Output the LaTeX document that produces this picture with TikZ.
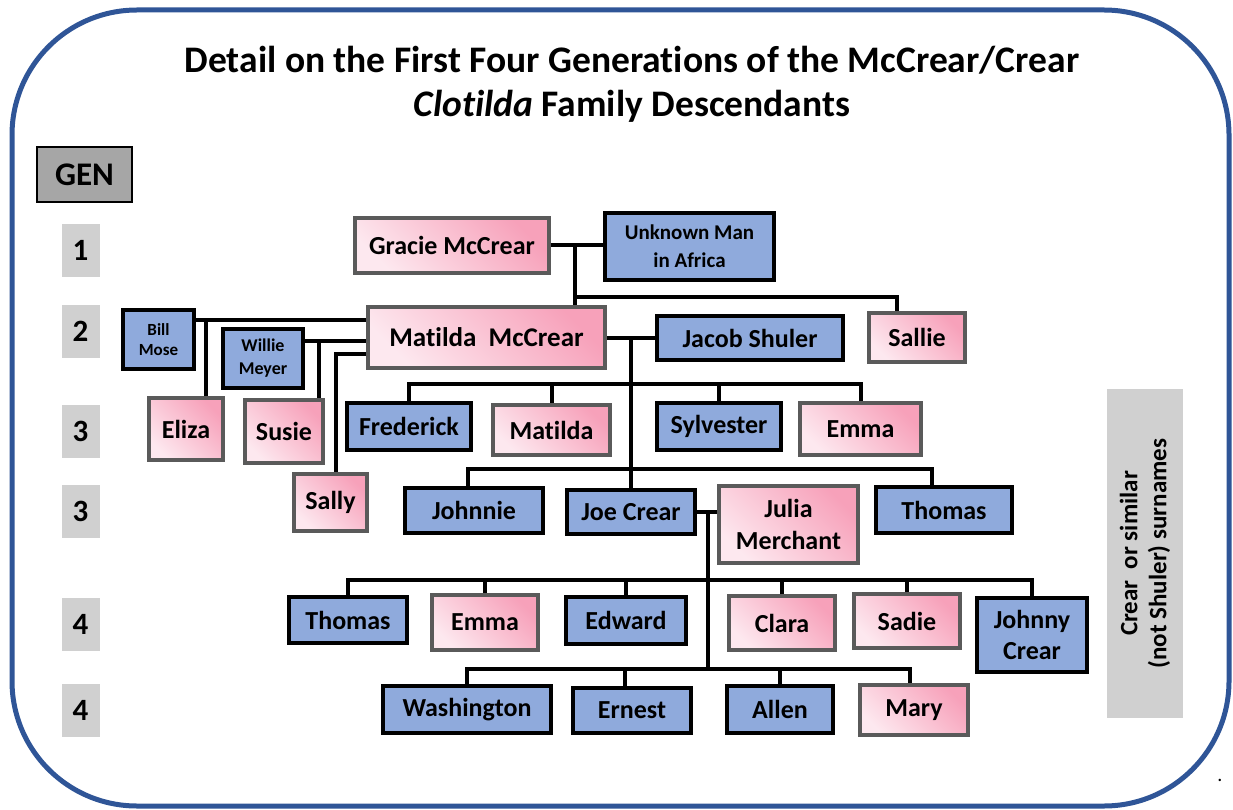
\documentclass[tikz,border=0pt]{standalone}
\usepackage{fontspec}
\setmainfont{Carlito}[Ligatures={NoCommon}]
\definecolor{frameblue}{HTML}{2F5597}
\definecolor{mblue}{HTML}{8FAADC}
\definecolor{pinkD}{HTML}{F7A1BA}
\definecolor{pinkL}{HTML}{FDE8EF}
\definecolor{pinkB}{HTML}{5A5A5A}
\definecolor{genG}{HTML}{A6A6A6}
\definecolor{lightG}{HTML}{D0D0D0}
\newcommand{\fsz}[2]{\fontsize{#1}{#2}\selectfont\bfseries}
\tikzset{
  person/.style={rectangle, inner sep=0pt, align=center, font=\fsz{26}{30}, text=black},
  male/.style={person, draw=black, line width=3.2pt, fill=mblue},
  female/.style={person, draw=pinkB, line width=3.8pt, top color=pinkD, bottom color=pinkL, shading angle=-45},
  link/.style={line width=4pt, black},
  genbox/.style={fill=lightG, minimum width=38pt, minimum height=53pt, inner sep=0pt, font=\fsz{31}{36}},
}
\begin{document}
\begin{tikzpicture}[x=1pt,y=-1pt]
\useasboundingbox (0,0) rectangle (1233,810);
\draw[frameblue, line width=5pt, rounded corners=125pt] (12,10) rectangle (1229,806);

\node[align=center, font=\fsz{37.5}{44}] (title) at (632,84)
  {Detail on the First Four Generations of the McCrear/Crear\\\textit{Clotilda} Family Descendants};

\node[draw=black, line width=2pt, fill=genG, minimum width=95pt, minimum height=55pt, font=\fsz{33}{36}] (gen) at (84.5,174.5) {GEN};
\node[genbox] (g1) at (80.5,250.5) {1};
\node[genbox] (g2) at (80.5,331) {2};
\node[genbox] (g3a) at (80.5,431) {3};
\node[genbox] (g3b) at (80.5,511) {3};
\node[genbox] (g4a) at (80.5,624) {4};
\node[genbox] (g4b) at (80.5,710) {4};

\node[fill=lightG, rotate=90, minimum width=329pt, minimum height=76pt, inner sep=0pt, align=center, font=\fsz{25}{29}] (legend) at (1145,553.5)
  {Crear\ \ or similar\\(not Shuler) surnames};

% generation 1
\node[female, minimum width=194pt, minimum height=55pt] (gracie) at (452,245.5) {Gracie McCrear};
\node[male, minimum width=169pt, minimum height=67pt, font=\fsz{21}{28}] (unknown) at (689.5,246.5) {Unknown Man\\in Africa};
% generation 2
\node[female, minimum width=237pt, minimum height=61pt, font=\fsz{27}{30}] (matmc) at (486.5,337.5) {Matilda\ \ McCrear};
\node[male, minimum width=186pt, minimum height=44pt] (jacob) at (750,338) {Jacob Shuler};
\node[female, minimum width=96pt, minimum height=49pt] (sallie) at (917,337.5) {Sallie};
\node[male, minimum width=71pt, minimum height=59pt, font=\fsz{17}{20}] (bill) at (158.5,339.5) {Bill\\Mose};
\node[male, minimum width=80pt, minimum height=59pt, font=\fsz{18}{23}] (willie) at (263,358.5) {Willie\\Meyer};
% generation 3
\node[female, minimum width=74pt, minimum height=62pt] (eliza) at (186,429) {Eliza};
\node[female, minimum width=78pt, minimum height=63pt] (susie) at (284,431.5) {Susie};
\node[female, minimum width=73pt, minimum height=57pt] (sally) at (330.5,502.5) {Sally};
\node[male, minimum width=124pt, minimum height=47pt] (frederick) at (409,426.5) {Frederick};
\node[female, minimum width=117pt, minimum height=50pt] (mat3) at (551.5,430) {Matilda};
\node[male, minimum width=124pt, minimum height=47pt] (sylvester) at (719,426.5) {Sylvester};
\node[female, minimum width=121pt, minimum height=52pt] (emma3) at (860.5,429) {Emma};
\node[male, minimum width=138pt, minimum height=45pt] (johnnie) at (474,510.5) {Johnnie};
\node[male, minimum width=128pt, minimum height=44pt] (joe) at (631,512) {Joe Crear};
\node[female, minimum width=139pt, minimum height=77pt, font=\fsz{26}{32}] (julia) at (788.5,524.5) {Julia\\Merchant};
\node[male, minimum width=136pt, minimum height=46pt] (thomas3) at (944,510) {Thomas};
% generation 4
\node[male, minimum width=118pt, minimum height=46pt] (thomas4) at (348,620) {Thomas};
\node[female, minimum width=106pt, minimum height=55pt] (emma4) at (485,622.5) {Emma};
\node[male, minimum width=120pt, minimum height=47pt] (edward) at (626,620.5) {Edward};
\node[female, minimum width=106pt, minimum height=54pt] (clara) at (782,623) {Clara};
\node[female, minimum width=106pt, minimum height=54pt] (sadie) at (907,621) {Sadie};
\node[male, minimum width=110pt, minimum height=74pt, font=\fsz{26}{31}] (johnny) at (1032,635) {Johnny\\Crear};
\node[male, minimum width=168pt, minimum height=47pt] (washington) at (467,709.5) {Washington};
\node[male, minimum width=118pt, minimum height=45pt] (ernest) at (632,710.5) {Ernest};
\node[male, minimum width=106pt, minimum height=47pt] (allen) at (780,709.5) {Allen};
\node[female, minimum width=108pt, minimum height=50pt] (mary) at (914,710) {Mary};

\node[anchor=base, font=\fontsize{20}{20}\selectfont] (dot) at (1220,781) {.};

% connectors
\coordinate (gu) at (575,246);
\coordinate (sb) at (575,297);
\draw[link] (gracie.east) -- (gracie.east -| unknown.west);
\draw[link] (gu) -- (gu |- matmc.north);
\draw[link] (sb) -| ([xshift=-20pt]sallie.north);
\draw[link] (matmc.east) -- (matmc.east -| jacob.west);
\coordinate (mj) at (631,338);
\draw[link] (mj) -- (joe.north);

\coordinate (bm) at ([yshift=19.5pt]bill.east);
\draw[link] (bm) -- (bm -| matmc.west);
\draw[link] ([xshift=20pt]eliza.north) |- (bm);
\coordinate (wm) at ([yshift=17.5pt]willie.east);
\draw[link] (wm) -- (wm -| matmc.west);
\draw[link] ([xshift=35pt]susie.north) |- (wm);
\draw[link] ([yshift=-16.5pt]matmc.west) -| ([xshift=5.5pt]sally.north);

\coordinate (b3) at (631,384);
\draw[link] (frederick.north) |- (b3) -| (emma3.north);
\draw[link] (mat3.north) -- (mat3.north |- b3);
\draw[link] (sylvester.north) -- (sylvester.north |- b3);
\coordinate (b3b) at (631,469);
\draw[link] ([xshift=-6pt]johnnie.north) |- (b3b) -| ([xshift=-12pt]thomas3.north);

\coordinate (jj) at (708,512);
\draw[link] (joe.east) -- (joe.east -| julia.west);
\coordinate (b4) at (708,580);
\coordinate (b4b) at (708,669);
\draw[link] (jj) -- (b4b);
\draw[link] (thomas4.north) |- (b4) -| (johnny.north);
\draw[link] (emma4.north) -- (emma4.north |- b4);
\draw[link] (edward.north) -- (edward.north |- b4);
\draw[link] (clara.north) -- (clara.north |- b4);
\draw[link] (sadie.north) -- (sadie.north |- b4);
\draw[link] (washington.north) |- (b4b) -| ([xshift=-4pt]mary.north);
\draw[link] ([xshift=-7pt]ernest.north) -- ([xshift=-7pt]ernest.north |- b4b);
\draw[link] (allen.north) -- (allen.north |- b4b);
\end{tikzpicture}
\end{document}
